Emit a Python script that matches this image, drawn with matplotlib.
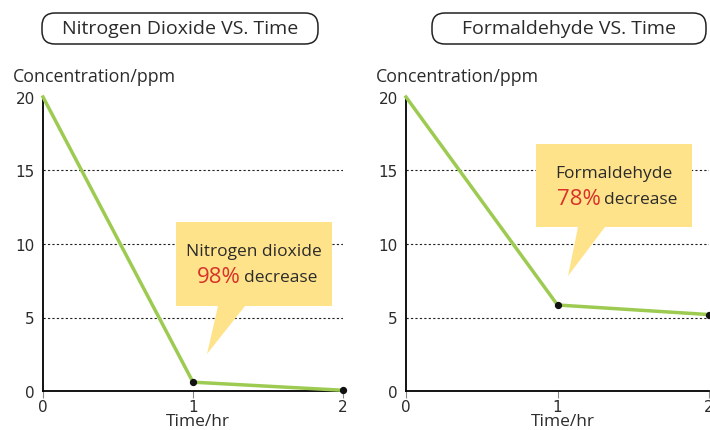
import matplotlib
matplotlib.use('Agg')
import matplotlib.pyplot as plt
from matplotlib.patches import Polygon, FancyBboxPatch

# data
hours = [0, 1, 2]
no2_ppm = [20, 0.6, 0.05]
hcho_ppm = [20, 5.85, 5.2]
titles = ['Nitrogen Dioxide VS. Time', 'Formaldehyde VS. Time']
callout_names = ['Nitrogen dioxide', 'Formaldehyde']
callout_pct = ['98%', '78%']
y_ticks = [0, 5, 10, 15, 20]
x_ticks = [0, 1, 2]

W, H = 710, 431
GREEN = '#9dcb52'
YELLOW = '#ffe38a'
RED = '#d8322a'
TXT = '#2b2b2b'
NARROW = ['Liberation Sans Narrow', 'DejaVu Sans']

plt.rcParams['font.family'] = ['Open Sans', 'DejaVu Sans']

fig = plt.figure(figsize=(W / 100, H / 100), dpi=100)

# overlay in pixel coordinates for titles, labels and callouts
ov = fig.add_axes([0, 0, 1, 1], zorder=10)
ov.set_xlim(0, W)
ov.set_ylim(H, 0)
ov.axis('off')
ov.patch.set_alpha(0)


def draw_panel(x0, x1, series, title, title_box, callout_box, tail, name, pct):
    ax = fig.add_axes([x0 / W, 1 - 392 / H, (x1 - x0) / W, (392 - 98) / H])
    ax.plot(hours, series, color=GREEN, lw=2.5, zorder=3, clip_on=False)
    ax.scatter(hours[1:], series[1:], color='#111111', s=18, zorder=4, clip_on=False)
    ax.set_xlim(0, 2)
    ax.set_ylim(0, 20)
    for v in y_ticks[1:-1]:
        ax.axhline(v, color='#222222', lw=0.8, ls=(0, (2, 2)), zorder=1)
    ax.spines['top'].set_visible(False)
    ax.spines['right'].set_visible(False)
    ax.spines['left'].set_linewidth(1.3)
    ax.spines['bottom'].set_linewidth(1.3)
    ax.set_yticks(y_ticks)
    ax.set_xticks(x_ticks)
    ax.set_yticklabels([str(v) for v in y_ticks], family=NARROW)
    ax.set_xticklabels([str(v) for v in x_ticks], family=NARROW)
    ax.tick_params(axis='y', length=0, pad=6, labelsize=11, labelcolor=TXT)
    ax.tick_params(axis='x', length=5, direction='out', color='#888888', pad=1, labelsize=11, labelcolor=TXT)
    ax.set_facecolor('none')

    # title pill
    bx0, by0, bx1, by1 = title_box
    pill = FancyBboxPatch((bx0, by0), bx1 - bx0, by1 - by0,
                          boxstyle='round,pad=0,rounding_size=13',
                          facecolor='white', edgecolor='#222222', lw=1.1)
    ov.add_patch(pill)
    ov.text((bx0 + bx1) / 2, (by0 + by1) / 2, title, ha='center', va='center',
            fontsize=14, color=TXT)

    ov.text(x0 - 30, 77, 'Concentration/ppm', ha='left', va='center', fontsize=12.8, color=TXT)
    ov.text((x0 + x1) / 2 + 5, 422, 'Time/hr', ha='center', va='center', fontsize=12.5, color=TXT)

    # callout
    cx0, cy0, cx1, cy1 = callout_box
    tb0, tb1, tx, ty = tail
    pts = [(cx0, cy0), (cx1, cy0), (cx1, cy1), (tb1, cy1), (tx, ty), (tb0, cy1), (cx0, cy1)]
    ov.add_patch(Polygon(pts, closed=True, facecolor=YELLOW, edgecolor='none'))
    cxm = (cx0 + cx1) / 2
    ov.text(cxm, cy0 + 29, name, ha='center', va='center', fontsize=12.5, color=TXT)
    ov.text(cxm - 13, cy0 + 55, pct, ha='right', va='center', fontsize=16, color=RED)
    ov.text(cxm - 10, cy0 + 55, 'decrease', ha='left', va='center', fontsize=12.5, color=TXT)
    return ax


draw_panel(43, 343, no2_ppm, titles[0], (42, 14, 318, 45), (176, 223, 332, 307),
           (218, 245, 207, 355), callout_names[0], callout_pct[0])
draw_panel(406, 709, hcho_ppm, titles[1], (432, 14, 706, 45), (536, 145, 692, 228),
           (578, 605, 568, 277), callout_names[1], callout_pct[1])

fig.savefig('out.png', dpi=100)
